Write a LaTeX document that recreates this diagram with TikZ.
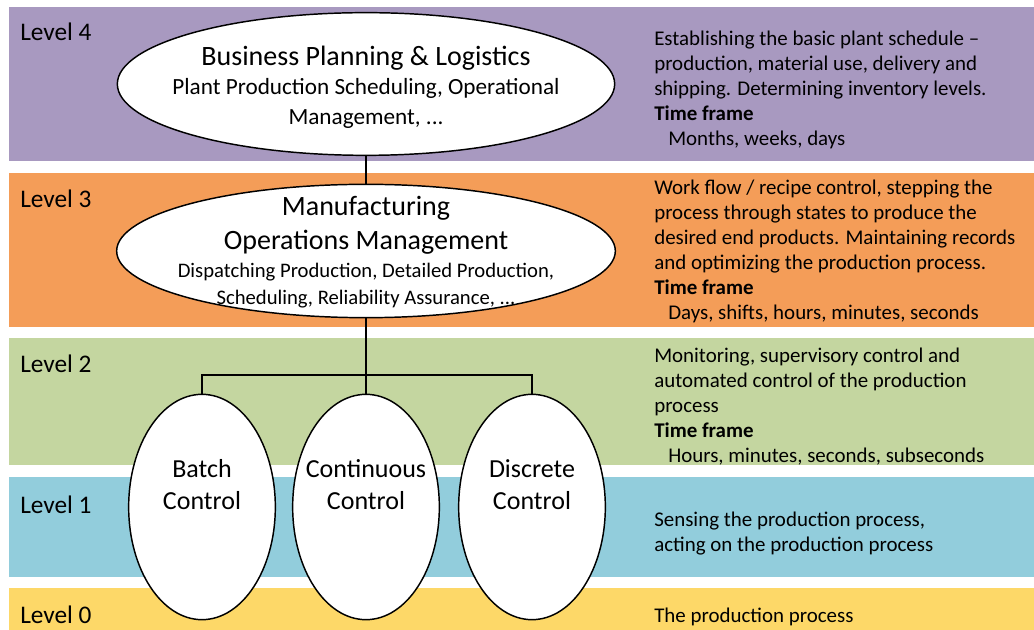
\documentclass[tikz,border=0pt]{standalone}
\usepackage{fontspec}
\setmainfont{Carlito}
\usepackage{tikz}
\usetikzlibrary{shapes.geometric}
\definecolor{lvfour}{RGB}{168,153,192}
\definecolor{lvthree}{RGB}{244,157,88}
\definecolor{lvtwo}{RGB}{196,214,160}
\definecolor{lvone}{RGB}{146,205,220}
\definecolor{lvzero}{RGB}{253,216,104}

\begin{document}
\begin{tikzpicture}[x=0.75pt, y=-0.75pt,
  oval/.style={ellipse, draw=black, line width=1.1pt, fill=white, inner sep=0pt},
  ctrl/.style={oval, minimum width=110pt, minimum height=169pt},
  lvl/.style={anchor=base west, inner sep=0pt, font=\fontsize{19}{23}\selectfont},
  info/.style={anchor=base west, inner sep=0pt, align=left, font=\fontsize{15.7}{18.75}\selectfont},
  title/.style={anchor=base, inner sep=0pt, font=\fontsize{21}{25}\selectfont},
  sub/.style={anchor=base, inner sep=0pt, align=center},
  ctext/.style={anchor=base, inner sep=0pt, align=center, font=\fontsize{19.5}{24}\selectfont},
  link/.style={line width=1.1pt}]
\useasboundingbox (0,0) rectangle (1034,630);
%%%%% Bands %%%%%
\fill[lvfour] (9,7) rectangle (1034,161);
\fill[lvthree] (9,173) rectangle (1034,327);
\fill[lvtwo] (9,338) rectangle (1034,465);
\fill[lvone] (9,477) rectangle (1034,577);
\fill[lvzero] (9,588) rectangle (1034,630);
%%%%% Level labels %%%%%
\node[lvl] (lfour) at (20,41) {Level 4};
\node[lvl] (lthree) at (20,208) {Level 3};
\node[lvl] (ltwo) at (20,373) {Level 2};
\node[lvl] (lone) at (20,513) {Level 1};
\node[lvl] (lzero) at (20,623) {Level 0};
%%%%% Ovals %%%%%
\node[oval, minimum width=373pt, minimum height=107pt] (bpl) at (366,84) {};
\node[oval, minimum width=374pt, minimum height=100pt] (mom) at (366,251) {};
\node[ctrl] (batch) at (202,507) {};
\node[ctrl] (cont) at (366,507) {};
\node[ctrl] (disc) at (532,507) {};
\coordinate (bar) at (366,375);
%%%%% Links %%%%%
\draw[link] (bpl.south) -- (mom.north);
\draw[link] (mom.south) -- (cont.north);
\draw[link] (batch.north) |- (bar) -| (disc.north);
%%%%% Oval texts (base = last line) %%%%%
\node[title] (bpltitle) at (366,66) {Business Planning \& Logistics};
\node[sub, font=\fontsize{17.4}{23}\selectfont] (bplsub) at (366,125)
  {Plant Production Scheduling, Operational\\Management, ...};
\node[title] (momtitle) at (366,216) {Manufacturing};
\node[title] (momtitletwo) at (366,250) {Operations Management};
\node[sub, font=\fontsize{15.5}{20.25}\selectfont] (momsub) at (366,305)
  {Dispatching Production, Detailed Production,\\Scheduling, Reliability Assurance, ...};
\node[ctext] (batchtext) at (202,509) {Batch\\Control};
\node[ctext] (conttext) at (366,509) {Continuous\\Control};
\node[ctext] (disctext) at (532,509) {Discrete\\Control};
%%%%% Descriptions (base = last line) %%%%%
\node[info] (dfour) at (654,146) {Establishing the basic plant schedule --\\
  production, material use, delivery and\\
  shipping. Determining inventory levels.\\
  \textbf{Time frame}\\
  \hspace*{10.5pt}Months, weeks, days};
\node[info] (dthree) at (654,320) {Work flow / recipe control, stepping the\\
  process through states to produce the\\
  desired end products. Maintaining records\\
  and optimizing the production process.\\
  \textbf{Time frame}\\
  \hspace*{10.5pt}Days, shifts, hours, minutes, seconds};
\node[info] (dtwo) at (654,462) {Monitoring, supervisory control and\\
  automated control of the production\\
  process\\
  \textbf{Time frame}\\
  \hspace*{10.5pt}Hours, minutes, seconds, subseconds};
\node[info] (done) at (654,551) {Sensing the production process,\\
  acting on the production process};
\node[info] (dzero) at (654,622) {The production process};
\end{tikzpicture}
\end{document}
